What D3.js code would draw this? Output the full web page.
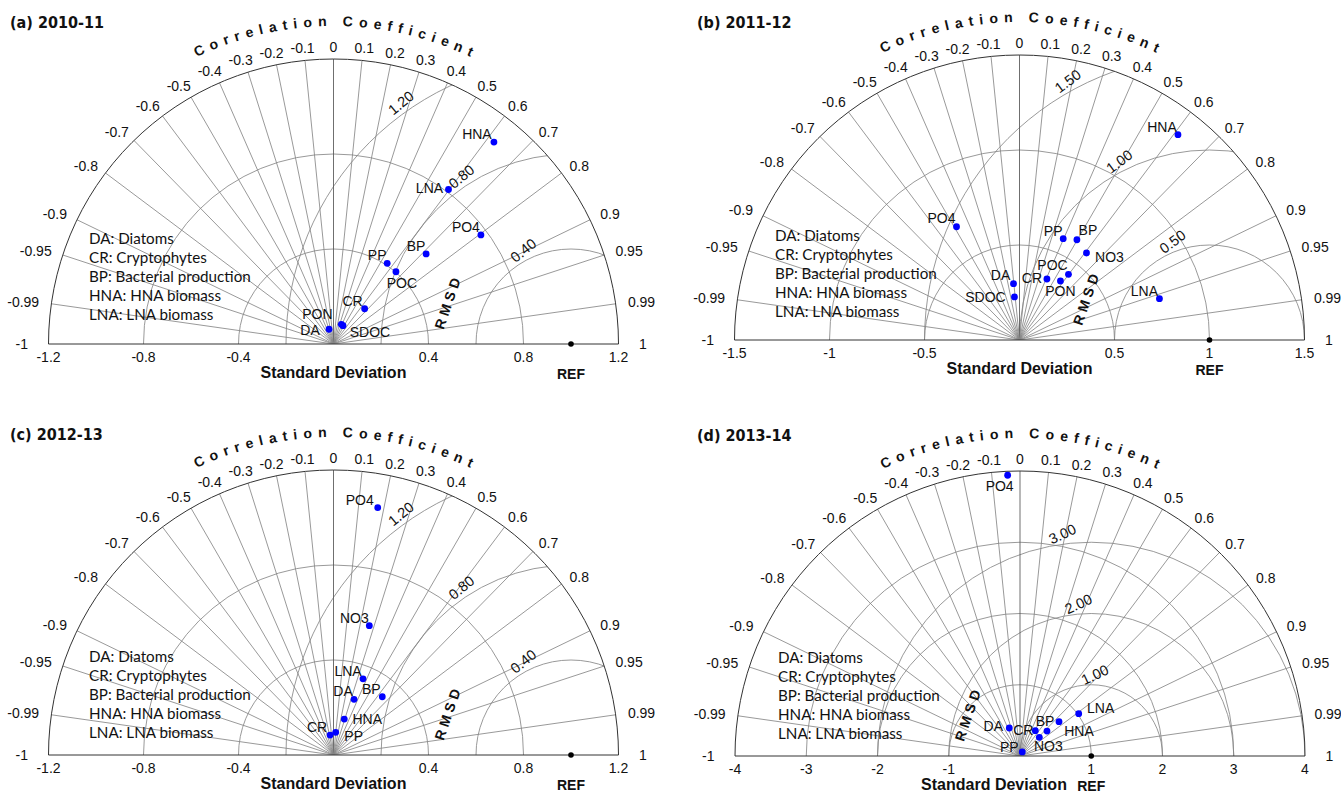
<!DOCTYPE html>
<html>
<head>
<meta charset="utf-8">
<script src="https://cdn.jsdelivr.net/npm/d3@7"></script>
<style>
  body { margin: 0; background: #fff; }
  svg { display: block; }
  text { font-family: "Liberation Sans", Arial, sans-serif; fill: #111; }
</style>
</head>
<body>
<svg id="chart" width="1341" height="793"></svg>
<script>
// ---- values shared by the four Taylor diagrams ----
const corrTicks = [-1, -0.99, -0.95, -0.9, -0.8, -0.7, -0.6, -0.5, -0.4, -0.3, -0.2, -0.1,
                   0, 0.1, 0.2, 0.3, 0.4, 0.5, 0.6, 0.7, 0.8, 0.9, 0.95, 0.99, 1];
const legendLines = ["DA: Diatoms", "CR: Cryptophytes", "BP: Bacterial production",
                     "HNA: HNA biomass", "LNA: LNA biomass"];
const panelTitles = ["(a) 2010-11", "(b) 2011-12", "(c) 2012-13", "(d) 2013-14"];

// ---- (a) 2010-11 ----
const namesA = ["HNA", "LNA", "PO4", "BP", "PP", "POC", "CR", "PON", "SDOC", "DA"];
const stdA   = [1.086, 0.811, 0.772, 0.544, 0.408, 0.402, 0.198, 0.089, 0.087, 0.065];
const corrA  = [0.622, 0.597, 0.804, 0.717, 0.554, 0.654, 0.662, 0.37, 0.46, -0.29];
const stdTicksA = [-1.2, -0.8, -0.4, 0.4, 0.8, 1.2];
const rmsTicksA = [0.4, 0.8, 1.2];

// ---- (b) 2011-12 ----
const namesB = ["HNA", "PO4", "PP", "BP", "NO3", "POC", "CR", "PON", "DA", "SDOC", "LNA"];
const stdB   = [1.365, 0.682, 0.581, 0.608, 0.578, 0.431, 0.352, 0.378, 0.298, 0.228, 0.768];
const corrB  = [0.611, -0.486, 0.396, 0.497, 0.610, 0.598, 0.41, 0.570, -0.106, -0.116, 0.959];
const stdTicksB = [-1.5, -1, -0.5, 0.5, 1, 1.5];
const rmsTicksB = [0.5, 1.0, 1.5];

// ---- (c) 2012-13 ----
const namesC = ["PO4", "NO3", "LNA", "BP", "DA", "HNA", "PP", "CR"];
const stdC   = [1.058, 0.565, 0.344, 0.320, 0.250, 0.158, 0.096, 0.085];
const corrC  = [0.176, 0.267, 0.361, 0.642, 0.346, 0.287, 0.096, -0.17];
const stdTicksC = [-1.2, -0.8, -0.4, 0.4, 0.8, 1.2];
const rmsTicksC = [0.4, 0.8, 1.2];

// ---- (d) 2013-14 ----
const namesD = ["PO4", "LNA", "BP", "HNA", "NO3", "CR", "DA", "PP"];
const stdD   = [3.944, 1.016, 0.729, 0.516, 0.377, 0.415, 0.421, 0.065];
const corrD  = [-0.044, 0.811, 0.751, 0.734, 0.719, 0.518, -0.357, 0.49];
const stdTicksD = [-4, -3, -2, -1, 1, 2, 3, 4];
const rmsTicksD = [1, 2, 3];

// ---- layout: placement of each diagram and its annotations ----
const R = 285;  // outer radius in px
const layouts = [
  { ox: 333.5, oy: 344, max: 1.2, title: [10, 22], legend: [89, 238],
    rmsAngles: [117, 123.2, 125.2], rmsRot: 39, sdShift: 0,
    offsets: [[-17,-8],[-19,-1],[-15,-8],[-10,-8],[-10,-8],[6,11],[-12,-8],[-24,-10],[27,6],[-19,1]] },
  { ox: 1019.5, oy: 340, max: 1.5, title: [697, 22], legend: [775, 235],
    rmsAngles: [110.6, 116.8, 118.7], rmsRot: 37, sdShift: 0,
    offsets: [[-16,-8],[-15,-9],[-10,-8],[11,-10],[23,4],[-16,-9],[-15,-1],[0,10],[-13,-9],[-29,0],[-15,-8]] },
  { ox: 333.5, oy: 755, max: 1.2, title: [10, 434], legend: [89, 656],
    rmsAngles: [117, 123.2, 125.2], rmsRot: 39, sdShift: 0,
    offsets: [[-18,-8],[-15,-8],[-15,-8],[-11,-8],[-11,-8],[23,0],[18,4],[-13,-8]] },
  { ox: 1020, oy: 756, max: 4, title: [697, 435], legend: [778, 657],
    rmsAngles: [87.4, 94.8, 97.4], rmsRot: 25, sdShift: -26,
    offsets: [[-8,11],[22,-6],[-14,-1],[32,0],[9,9],[-12,-1],[-16,-2],[-13,-5]] }
];
const panelData = [
  { names: namesA, std: stdA, corr: corrA, stdTicks: stdTicksA, rmsTicks: rmsTicksA },
  { names: namesB, std: stdB, corr: corrB, stdTicks: stdTicksB, rmsTicks: rmsTicksB },
  { names: namesC, std: stdC, corr: corrC, stdTicks: stdTicksC, rmsTicks: rmsTicksC },
  { names: namesD, std: stdD, corr: corrD, stdTicks: stdTicksD, rmsTicks: rmsTicksD }
];

const svg = d3.select("#chart");
const gridColor = "#878787";
const rad = d => d * Math.PI / 180;

// width of a single glyph in the arc-title font
const probe = svg.append("text").attr("font-size", 14).attr("font-weight", "bold")
  .attr("x", -999).attr("y", -999);
function glyphWidth(ch) {
  probe.text(ch === " " ? "\u00a0" : ch);
  return probe.node().getComputedTextLength();
}

function drawPanel(data, lay, i) {
  const g = svg.append("g").attr("transform", `translate(${lay.ox},${lay.oy})`);
  const s = d3.scaleLinear().domain([0, lay.max]).range([0, R]);
  const px = (sd, c) => [s(sd * c), -s(sd * Math.sqrt(Math.max(0, 1 - c * c)))];

  // clip region: the upper half disc
  const clipId = "half" + i;
  g.append("clipPath").attr("id", clipId)
    .append("path").attr("d", `M${-R},0A${R},${R} 0 0 1 ${R},0Z`);
  const grid = g.append("g").attr("clip-path", `url(#${clipId})`)
    .attr("fill", "none").attr("stroke", gridColor).attr("stroke-width", 0.85);

  // standard-deviation arcs centred on the origin
  grid.selectAll("circle.sd").data(data.stdTicks.filter(v => v > 0 && v < lay.max))
    .join("circle").attr("class", "sd").attr("r", d => s(d));

  // centred-RMS difference arcs around the reference point
  grid.selectAll("circle.rms").data(data.rmsTicks)
    .join("circle").attr("class", "rms").attr("cx", s(1)).attr("r", d => s(d));

  // correlation rays
  grid.selectAll("line.ray").data(corrTicks.filter(c => Math.abs(c) < 1))
    .join("line").attr("class", "ray")
    .attr("x2", c => R * c).attr("y2", c => -R * Math.sqrt(1 - c * c))
    .attr("stroke", c => c === 0 ? "#555" : gridColor);

  // outer arc and baseline
  g.append("path").attr("d", `M${-R},0A${R},${R} 0 0 1 ${R},0`)
    .attr("fill", "none").attr("stroke", "#333").attr("stroke-width", 1);
  g.append("line").attr("x1", -R).attr("x2", R).attr("stroke", "#333").attr("stroke-width", 1);

  // correlation tick labels
  const gap = 12.5;
  g.selectAll("text.corr").data(corrTicks).join("text").attr("class", "corr")
    .attr("font-size", 14).attr("text-anchor", "middle").attr("dominant-baseline", "central")
    .text(d => String(d))
    .each(function (c) {
      const w = this.getComputedTextLength();
      const sn = Math.sqrt(1 - c * c);
      const extra = Math.abs(c) === 1 ? 8 : 0;
      d3.select(this)
        .attr("x", (R + gap + extra) * c + c * w / 2)
        .attr("y", -(R + gap) * sn);
    });

  // "Correlation Coefficient" set letter by letter along an arc
  const title = "Correlation Coefficient".split("");
  const rc = 318;
  const widths = title.map(glyphWidth);
  const target = rc * rad(51);
  const ls = (target - d3.sum(widths)) / (title.length - 1);
  let pos = -target / 2;
  const glyphs = title.map((ch, k) => {
    const centre = pos + widths[k] / 2;
    pos += widths[k] + ls;
    return { ch, phi: centre / rc };
  }).filter(d => d.ch !== " ");
  g.append("g").selectAll("text").data(glyphs).join("text")
    .attr("font-size", 14).attr("font-weight", "bold").attr("text-anchor", "middle")
    .attr("transform", d => `translate(${rc * Math.sin(d.phi)},${-rc * Math.cos(d.phi)}) rotate(${d.phi * 180 / Math.PI})`)
    .text(d => d.ch);

  // standard deviation tick labels
  g.selectAll("text.sdt").data(data.stdTicks).join("text").attr("class", "sdt")
    .attr("font-size", 14).attr("text-anchor", "middle")
    .attr("x", d => d < 0 ? -s(-d) : s(d)).attr("y", 18)
    .text(d => String(d));

  g.append("text").attr("x", lay.sdShift).attr("y", 34).attr("text-anchor", "middle")
    .attr("font-size", 16).attr("font-weight", "bold").text("Standard Deviation");
  g.append("text").attr("x", s(1)).attr("y", 35).attr("text-anchor", "middle")
    .attr("font-size", 14).attr("font-weight", "bold").text("REF");

  // RMS contour labels
  const fmt = d3.format(".2f");
  g.selectAll("text.rmsl").data(data.rmsTicks).join("text").attr("class", "rmsl")
    .attr("font-size", 14.5).attr("text-anchor", "middle").attr("dominant-baseline", "central")
    .attr("transform", (d, k) => {
      const a = rad(lay.rmsAngles[k]);
      const r = s(d) + 10;
      const x = s(1) + r * Math.cos(a), y = -r * Math.sin(a);
      return `translate(${x},${y}) rotate(${-lay.rmsRot})`;
    })
    .text(d => fmt(d));

  // RMSD axis title
  {
    const a = rad(161), r = 0.4565 * R;
    const x = s(1) + r * Math.cos(a), y = -r * Math.sin(a);
    g.append("text").attr("transform", `translate(${x},${y}) rotate(-71)`)
      .attr("text-anchor", "middle").attr("dominant-baseline", "central")
      .attr("font-size", 14).attr("font-weight", "bold").attr("letter-spacing", 4)
      .text("RMSD");
  }

  // reference point
  g.append("circle").attr("cx", s(1)).attr("cy", 0).attr("r", 2.8).attr("fill", "#000");

  // model points
  const pts = data.names.map((n, k) => ({ n, sd: data.std[k], c: data.corr[k], off: lay.offsets[k] }));
  g.selectAll("circle.pt").data(pts).join("circle").attr("class", "pt")
    .attr("cx", d => px(d.sd, d.c)[0]).attr("cy", d => px(d.sd, d.c)[1])
    .attr("r", 3.4).attr("fill", "#0000ff");
  g.selectAll("text.ptl").data(pts).join("text").attr("class", "ptl")
    .attr("font-size", 14).attr("text-anchor", "middle").attr("dominant-baseline", "central")
    .attr("x", d => px(d.sd, d.c)[0] + d.off[0]).attr("y", d => px(d.sd, d.c)[1] + d.off[1])
    .text(d => d.n);

  // legend of abbreviations
  svg.append("g").selectAll("text").data(legendLines).join("text")
    .attr("x", lay.legend[0]).attr("y", (d, k) => lay.legend[1] + k * 19.1)
    .attr("dominant-baseline", "central")
    .style("font-family", "Lato, 'Open Sans', sans-serif").attr("font-size", 15.2)
    .text(d => d);

  // panel title
  svg.append("text").attr("x", lay.title[0]).attr("y", lay.title[1])
    .attr("dominant-baseline", "central")
    .style("font-family", "'DejaVu Sans Condensed', 'DejaVu Sans', sans-serif")
    .style("font-stretch", "condensed")
    .attr("font-weight", "bold").attr("font-size", 16)
    .text(panelTitles[i]);
}

panelData.forEach((d, i) => drawPanel(d, layouts[i], i));
probe.remove();
</script>
</body>
</html>
